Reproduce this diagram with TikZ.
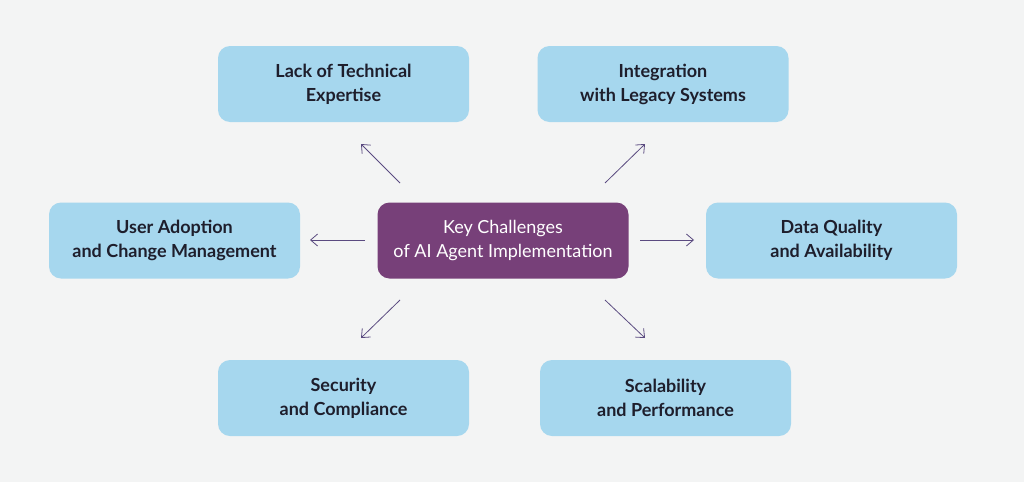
\documentclass[tikz,border=0pt]{standalone}
\usepackage{fontspec}
\setmainfont{Lato}
\usetikzlibrary{arrows.meta}
\definecolor{bg}{HTML}{F3F4F4}
\definecolor{boxb}{HTML}{A6D7EE}
\definecolor{boxp}{HTML}{774079}
\definecolor{txt}{HTML}{1E1E2C}
\definecolor{arr}{HTML}{5A4A80}
\begin{document}
\begin{tikzpicture}[x=1pt,y=-1pt,
 box/.style={rounded corners=12pt,fill=boxb,minimum width=251pt,minimum height=76pt,align=center,font=\fontsize{18}{24}\selectfont\bfseries,text=txt},
 cbox/.style={box,fill=boxp,text=white,font=\fontsize{18}{24}\selectfont},
 con/.style={draw=arr,line width=0.8pt,-{Straight Barb[length=7pt,width=12pt]}}]
\fill[bg] (0,0) rectangle (1024,482);
\useasboundingbox (0,0) rectangle (1024,482);
\node[cbox] (c) at (503,240.5) {Key Challenges\\of AI Agent Implementation};
\node[box] (tl) at (343.5,84) {Lack of Technical\\Expertise};
\node[box] (tr) at (663,84) {Integration\\with Legacy Systems};
\node[box] (l) at (174.5,240.5) {User Adoption\\and Change Management};
\node[box] (r) at (831.5,240.5) {Data Quality\\and Availability};
\node[box] (bl) at (343.5,398) {Security\\and Compliance};
\node[box] (br) at (665.5,398) {Scalability\\and Performance};
\coordinate (a1) at (400,183); \coordinate (b1) at (361,144);
\coordinate (a2) at (605,183); \coordinate (b2) at (645,144);
\coordinate (a3) at (365,240); \coordinate (b3) at (310,240);
\coordinate (a4) at (640,240); \coordinate (b4) at (694,240);
\coordinate (a5) at (400,300); \coordinate (b5) at (361,338);
\coordinate (a6) at (605,300); \coordinate (b6) at (645,338);
\foreach \i in {1,...,6} \draw[con] (a\i) -- (b\i);
\end{tikzpicture}
\end{document}
